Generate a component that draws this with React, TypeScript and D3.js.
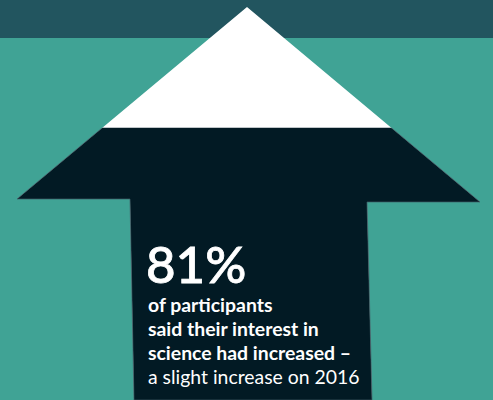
import * as d3 from 'd3';
import React from 'react';

// values
const share = [81];
const headline = share.map((v) => v + '%');
const boldLines = ['of participants', 'said their interest in', 'science had increased –'];
const lightLines = ['a slight increase on 2016'];

const W = 493;
const H = 400;

// outline of the arrow (apex, head corners, shaft)
const arrowPts: [number, number][] = [
  [247, 7],
  [480, 202],
  [367, 202],
  [372, 400],
  [134, 400],
  [130, 199],
  [17, 199],
];

const App = () => {
  // fill level of the arrow, 0..100 from bottom
  const level = d3.scaleLinear().domain([0, 100]).range([H, 64]);
  const fillY = level(share[0]);
  const path = d3.line().curve(d3.curveLinearClosed)(arrowPts) as string;
  const font = 'Lato, "Open Sans", sans-serif';

  return (
    <svg
      width={W}
      height={H}
      style={{ position: 'fixed', top: 0, left: 0, display: 'block' }}
    >
      <rect x={0} y={0} width={W} height={H} fill="#40a395" />
      <rect x={0} y={0} width={W} height={38} fill="#22555f" />
      <defs>
        <clipPath id="lvl">
          <rect x={0} y={fillY} width={W} height={H - fillY} />
        </clipPath>
      </defs>
      <path d={path} fill="#ffffff" />
      <path d={path} fill="#021a24" stroke="#3f5d66" strokeWidth={0.7} clipPath="url(#lvl)" />
      <text x={146} y={283} fill="#ffffff" fontFamily={font} fontSize={51} fontWeight={500} stroke="#ffffff" strokeWidth={0.8}>
        {headline[0]}
      </text>
      {boldLines.map((t, i) => (
        <text key={t} x={148} y={312 + i * 24} fill="#ffffff" fontFamily={font} fontSize={19.4} fontWeight={700}>
          {t}
        </text>
      ))}
      {lightLines.map((t, i) => (
        <text key={t} x={148} y={384 + i * 24} fill="#ffffff" fontFamily={font} fontSize={19.4} fontWeight={400}>
          {t}
        </text>
      ))}
    </svg>
  );
};

export default App;
